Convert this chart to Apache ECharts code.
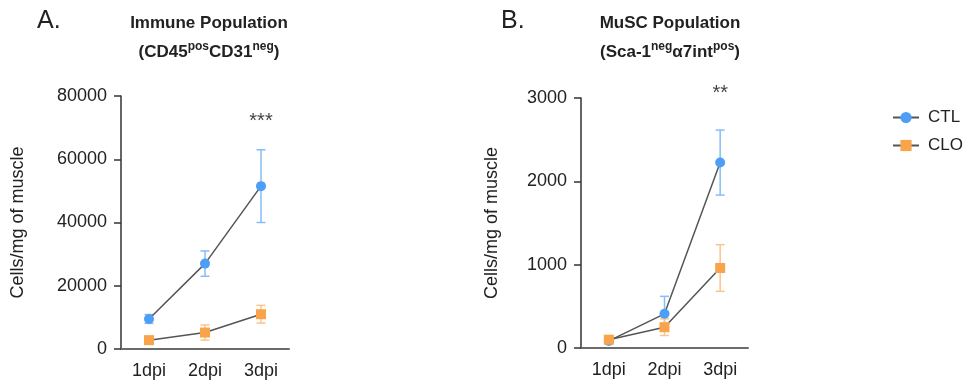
<!DOCTYPE html>
<html>
<head>
<meta charset="utf-8">
<script src="https://cdn.jsdelivr.net/npm/echarts@6/dist/echarts.min.js"></script>
<style>
  html, body { margin: 0; padding: 0; background: #fff; }
  #main { width: 969px; height: 385px; }
</style>
</head>
<body>
<div id="main"></div>
<script>
// 数据
var cats = ['1dpi', '2dpi', '3dpi'];
var immCtl = [9500, 27000, 51500];
var immCtlErr = [1400, 4000, 11500];
var immClo = [2800, 5200, 11000];
var immCloErr = [500, 2400, 2800];
var muscCtl = [85, 410, 2225];
var muscCtlErr = [30, 210, 390];
var muscClo = [100, 250, 960];
var muscCloErr = [30, 100, 280];
var immTicks = [0, 20000, 40000, 60000, 80000];
var muscTicks = [0, 1000, 2000, 3000];
var stars = ['***', '**'];
var starPos = [72000, 3050];

var FONT = 'Arial, "Liberation Sans", sans-serif';
var BLUE = '#4d9ef6', BLUE_L = '#85bdfa';
var ORANGE = '#f9a44b', ORANGE_L = '#fcc48d';

function errData(mean, err) {
    return mean.map(function (v, i) { return [i, v - err[i], v + err[i]]; });
}

//误差线
function renderErr(params, api) {
    var x = api.value(0);
    var lo = api.coord([x, api.value(1)]);
    var hi = api.coord([x, api.value(2)]);
    var w = 4.5;
    var st = { stroke: api.visual('color'), lineWidth: 1.5 };
    return {
        type: 'group',
        children: [
            { type: 'line', shape: { x1: hi[0], y1: hi[1], x2: lo[0], y2: lo[1] }, style: st },
            { type: 'line', shape: { x1: hi[0] - w, y1: hi[1], x2: hi[0] + w, y2: hi[1] }, style: st },
            { type: 'line', shape: { x1: lo[0] - w, y1: lo[1], x2: lo[0] + w, y2: lo[1] }, style: st }
        ]
    };
}

function xAxisOf(idx) {
    return {
        type: 'category',
        gridIndex: idx,
        data: cats,
        boundaryGap: true,
        axisLine: { lineStyle: { color: '#6b6b6b', width: 2 } },
        axisTick: { alignWithLabel: true, length: 7, lineStyle: { color: '#555', width: 1.5 } },
        axisLabel: { color: '#222', fontSize: 18, margin: 13, fontFamily: FONT },
        splitLine: { show: false }
    };
}

function yAxisOf(idx, ticks, gap) {
    return {
        type: 'value',
        gridIndex: idx,
        min: ticks[0],
        max: ticks[ticks.length - 1],
        interval: ticks[1] - ticks[0],
        name: 'Cells/mg of muscle',
        nameLocation: 'middle',
        nameGap: gap,
        nameTextStyle: { color: '#222', fontSize: 18, fontFamily: FONT },
        axisLine: { show: true, lineStyle: { color: '#333', width: 1.5 } },
        axisTick: { show: true, length: 7, lineStyle: { color: '#333', width: 1.5 } },
        axisLabel: {
            color: '#222', fontSize: 18, margin: 14, fontFamily: FONT,
            formatter: function (v) { return String(v); }
        },
        splitLine: { show: false }
    };
}

var titleRich = {
    b: { fontSize: 17, fontWeight: 'bold', color: '#222', fontFamily: FONT, lineHeight: 29 },
    s: { fontSize: 12, fontWeight: 'bold', color: '#222', fontFamily: FONT, lineHeight: 29, verticalAlign: 'top', padding: [3, 0, 0, 0] }
};

function lineSeries(name, data, idx, color, symbol) {
    return {
        name: name,
        type: 'line',
        xAxisIndex: idx,
        yAxisIndex: idx,
        data: data,
        symbol: symbol,
        symbolSize: 10,
        showSymbol: true,
        lineStyle: { color: '#555', width: 1.5 },
        itemStyle: { color: color },
        z: 3
    };
}

function errSeries(name, mean, err, idx, color) {
    return {
        name: name,
        type: 'custom',
        xAxisIndex: idx,
        yAxisIndex: idx,
        data: errData(mean, err),
        renderItem: renderErr,
        itemStyle: { color: color },
        encode: { x: 0, y: [1, 2] },
        z: 2
    };
}

function starSeries(idx) {
    return {
        type: 'scatter',
        xAxisIndex: idx,
        yAxisIndex: idx,
        symbolSize: 0,
        clip: false,
        data: [[2, starPos[idx]]],
        label: {
            show: true,
            position: 'inside',
            formatter: stars[idx],
            color: '#111',
            fontSize: 20,
            fontFamily: FONT
        },
        silent: true
    };
}

var myChart = echarts.init(document.getElementById('main'));
var option = {
    backgroundColor: '#fff',
    animation: false,
    title: [
        { text: 'A.', left: 37, top: 9, padding: 0, textStyle: { fontSize: 25, fontWeight: 'normal', color: '#222', fontFamily: FONT } },
        { text: 'B.', left: 501, top: 9, padding: 0, textStyle: { fontSize: 25, fontWeight: 'normal', color: '#222', fontFamily: FONT } },
        {
            left: 204, top: 4, textAlign: 'center',
            text: '{b|Immune Population}\n{b|(CD45}{s|pos}{b|CD31}{s|neg}{b|)}',
            textStyle: { rich: titleRich }
        },
        {
            left: 665, top: 4, textAlign: 'center',
            text: '{b|MuSC Population}\n{b|(Sca-1}{s|neg}{b|α7int}{s|pos}{b|)}',
            textStyle: { rich: titleRich }
        }
    ],
    legend: {
        orient: 'vertical',
        left: 887,
        top: 104,
        itemWidth: 26,
        itemHeight: 14,
        itemGap: 11,
        data: ['CTL', 'CLO'],
        textStyle: { color: '#222', fontSize: 17, fontFamily: FONT, padding: [0, 0, 0, 4] }
    },
    grid: [
        { left: 121, top: 96, width: 168, height: 253 },
        { left: 581, top: 98, width: 167, height: 250 }
    ],
    xAxis: [xAxisOf(0), xAxisOf(1)],
    yAxis: [yAxisOf(0, immTicks, 94), yAxisOf(1, muscTicks, 80)],
    series: [
        lineSeries('CTL', immCtl, 0, BLUE, 'circle'),
        lineSeries('CLO', immClo, 0, ORANGE, 'rect'),
        errSeries('CTL', immCtl, immCtlErr, 0, BLUE_L),
        errSeries('CLO', immClo, immCloErr, 0, ORANGE_L),
        starSeries(0),
        lineSeries('CTL', muscCtl, 1, BLUE, 'circle'),
        lineSeries('CLO', muscClo, 1, ORANGE, 'rect'),
        errSeries('CTL', muscCtl, muscCtlErr, 1, BLUE_L),
        errSeries('CLO', muscClo, muscCloErr, 1, ORANGE_L),
        starSeries(1)
    ]
};
myChart.setOption(option);
</script>
</body>
</html>
